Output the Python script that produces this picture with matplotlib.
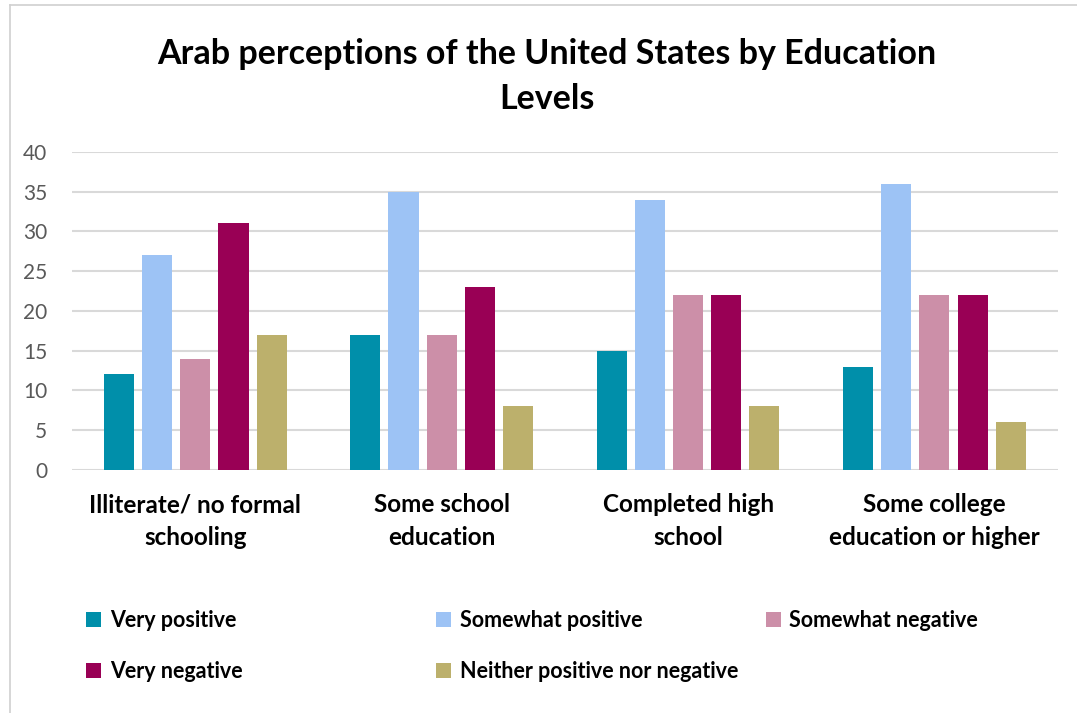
import numpy as np
import matplotlib.pyplot as plt
from matplotlib.lines import Line2D

plt.rcParams['font.family'] = ['Lato', 'DejaVu Sans']

# Datos
categorias = ['Illiterate/ no formal\nschooling', 'Some school\neducation',
              'Completed high\nschool', 'Some college\neducation or higher']
series = ['Very positive', 'Somewhat positive', 'Somewhat negative',
          'Very negative', 'Neither positive nor negative']
very_pos = [12, 17, 15, 13]
somewhat_pos = [27, 35, 34, 36]
somewhat_neg = [14, 17, 22, 22]
very_neg = [31, 23, 22, 22]
neither = [17, 8, 8, 6]
colores = ['#008FAA', '#9DC3F5', '#CC8FA8', '#990055', '#BCB06C']

valores = [very_pos, somewhat_pos, somewhat_neg, very_neg, neither]

fig = plt.figure(figsize=(10.77, 7.13), dpi=100)
ax = fig.add_axes([0.067, 0.341, 0.915, 0.446])

x = np.arange(len(categorias))
ancho = 0.122
paso = 0.155
barras = []
for i, (vals, col) in enumerate(zip(valores, colores)):
    b = ax.bar(x + (i - 2) * paso, vals, ancho, color=col, zorder=3, label=series[i])
    barras.append(b)

ax.set_xlim(-0.5, 3.5)
ax.set_ylim(0, 40)
ax.set_yticks(range(0, 41, 5))
ax.yaxis.grid(True, color='#d9d9d9', lw=1.5, zorder=0)
for s in ax.spines.values():
    s.set_visible(False)
ax.tick_params(axis='y', length=0, labelsize=15, labelcolor='#595959', pad=18)
ax.tick_params(axis='x', length=0, pad=17)
ax.set_xticks(x)
ax.set_xticklabels(categorias, fontsize=17.5, fontweight='bold', linespacing=1.5)

fig.text(0.508, 0.893, 'Arab perceptions of the United States by Education\nLevels',
         ha='center', va='center', fontsize=24.5, fontweight='bold', linespacing=1.5)

# Leyenda en tres columnas colocadas a mano
columnas = [[0, 3], [1, 4], [2]]
xs = [0.072, 0.397, 0.703]
for cols, xp in zip(columnas, xs):
    leg = fig.legend([barras[i] for i in cols], [series[i] for i in cols],
                     loc='upper left', bbox_to_anchor=(xp, 0.157), frameon=False,
                     prop={'weight': 'bold', 'size': 15.5}, handlelength=0.7,
                     handleheight=0.7, handletextpad=0.4, labelspacing=1.4,
                     borderaxespad=0)

# Borde del grafico
fig.add_artist(Line2D([0.009, 1.0], [0.993, 0.993], color='#d0d0d0', lw=1.2))
fig.add_artist(Line2D([0.009, 0.009], [0.0, 0.993], color='#d0d0d0', lw=1.2))

fig.savefig('out.png', dpi=100)
